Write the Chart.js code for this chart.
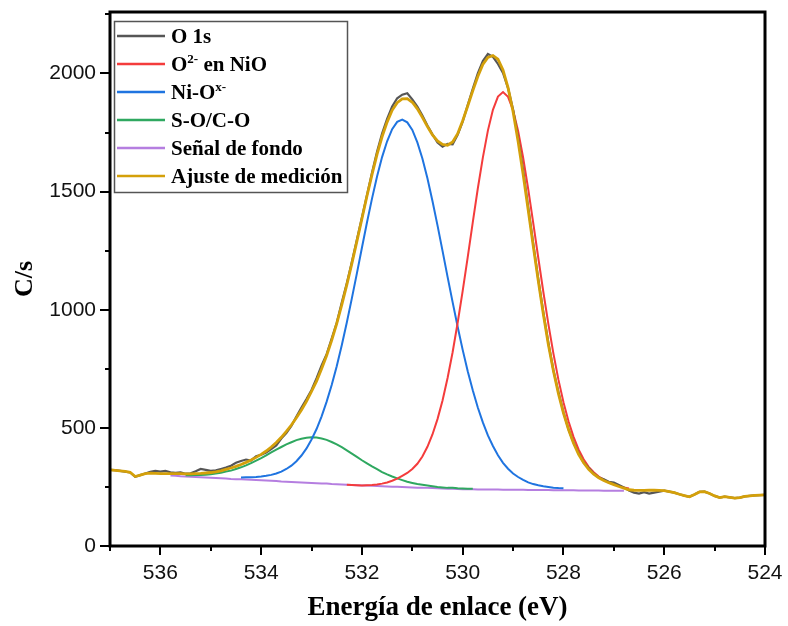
<!DOCTYPE html>
<html><head><meta charset="utf-8">
<script src="https://cdn.jsdelivr.net/npm/chart.js@4/dist/chart.umd.min.js"></script>
<style>html,body{margin:0;padding:0;background:#fff}</style>
</head><body>
<canvas id="c" width="788" height="626"></canvas>
<script>
// Binding energy grid (eV)
const energies = [
537.0,536.9,536.8,536.7,536.6,536.5,536.4,536.3,536.2,536.1,
536.0,535.9,535.8,535.7,535.6,535.5,535.4,535.3,535.2,535.1,
535.0,534.9,534.8,534.7,534.6,534.5,534.4,534.3,534.2,534.1,
534.0,533.9,533.8,533.7,533.6,533.5,533.4,533.3,533.2,533.1,
533.0,532.9,532.8,532.7,532.6,532.5,532.4,532.3,532.2,532.1,
532.0,531.9,531.8,531.7,531.6,531.5,531.4,531.3,531.2,531.1,
531.0,530.9,530.8,530.7,530.6,530.5,530.4,530.3,530.2,530.1,
530.0,529.9,529.8,529.7,529.6,529.5,529.4,529.3,529.2,529.1,
529.0,528.9,528.8,528.7,528.6,528.5,528.4,528.3,528.2,528.1,
528.0,527.9,527.8,527.7,527.6,527.5,527.4,527.3,527.2,527.1,
527.0,526.9,526.8,526.7,526.6,526.5,526.4,526.3,526.2,526.1,
526.0,525.9,525.8,525.7,525.6,525.5,525.4,525.3,525.2,525.1,
525.0,524.9,524.8,524.7,524.6,524.5,524.4,524.3,524.2,524.1,
524.0];

// O 1s measured counts
const o1sData = [
322,321,318,315,311,293,300,307,314,318,
315,318,312,310,312,306,308,316,326,322,
318,320,326,332,340,352,360,366,362,380,
386,396,410,425,455,478,508,548,586,622,
660,710,764,812,878,945,1030,1112,1202,1296,
1390,1485,1580,1668,1745,1808,1860,1895,1910,1916,
1890,1860,1822,1780,1742,1708,1690,1702,1700,1740,
1796,1866,1935,2000,2052,2082,2070,2040,2002,1938,
1848,1725,1590,1434,1280,1130,990,860,745,652,
566,495,438,392,353,330,306,290,282,272,
268,258,248,235,226,222,228,222,226,230,
234,230,226,219,213,208,218,229,230,222,
212,205,209,206,203,205,210,212,214,215,
216];

// Fitted envelope (Ajuste de medición)
const fitData = [
322,320,318,316,312,294,300,306,308,307,
306,306,306,306,306,305,305,306,307,309,
311,314,318,324,330,337,345,354,364,375,
388,402,419,438,460,485,512,543,576,612,
654,698,750,806,870,941,1020,1105,1195,1289,
1385,1481,1572,1657,1732,1794,1844,1876,1892,1893,
1878,1850,1814,1775,1740,1714,1700,1696,1710,1745,
1800,1862,1926,1987,2038,2068,2076,2060,2015,1940,
1838,1712,1572,1422,1270,1122,982,853,742,645,
562,493,435,388,352,325,304,289,277,268,
260,252,245,238,236,235,235,236,236,235,
234,230,226,219,213,208,218,229,230,222,
212,205,209,206,203,205,210,212,214,215,
216];

// O2- in NiO component, starting at 532.3 eV
const redStart = 532.3;
const redData = [
259,258,257,256,257,258,260,264,269,276,285,297,309,326,348,
379,420,472,537,616,711,820,945,1080,1223,
1370,1513,1644,1758,1846,1902,1921,1901,1845,1757,
1643,1511,1367,1220,1076,940,815,704,608,528,
462,409,367,335,312,294,281,268,261,254,
248,243];

// Ni-Ox- component, starting at 534.4 eV
const blueStart = 534.4;
const blueData = [
290,291,291,292,294,
297,301,307,315,326,340,359,383,413,451,
495,549,611,681,761,850,946,1048,1154,1262,
1369,1470,1564,1646,1713,1764,1795,1805,1793,1761,
1708,1640,1556,1460,1357,1249,1139,1032,928,830,
740,659,586,523,468,423,384,352,327,307,
292,280,269,262,257,253,250,247,245,244];

// S-O/C-O component, starting at 535.5 eV
const greenStart = 535.5;
const greenData = [
299,299,300,301,302,304,
307,310,315,319,326,333,341,351,361,372,
384,396,408,419,430,439,448,454,458,460,
459,455,449,440,430,418,405,391,377,363,
350,337,325,313,303,294,286,279,272,267,
262,259,256,253,250,248,246,246,244,243,
242,242];

// Background (Señal de fondo), starting at 535.8 eV
const bgStart = 535.8;
const bgData = [
298,297,295,294,293,292,291,290,289,
288,287,286,284,283,282,281,280,279,278,
277,276,275,273,272,271,270,269,268,267,
266,265,264,262,261,260,259,258,257,256,
256,255,254,253,252,251,251,250,249,248,
247,247,246,245,244,243,242,242,241,240,
240,240,239,239,239,239,239,238,238,238,
238,238,237,237,237,237,237,236,236,236,
236,236,235,235,235,235,235,234,234,234,
234,234];

const legendLabels = ['O 1s','O^{2-} en NiO','Ni-O^{x-}','S-O/C-O','Señal de fondo','Ajuste de medición'];
const xRange = [524, 537];
const yRange = [0, 2260];
const yTickValues = [0,250,500,750,1000,1250,1500,1750,2000,2250];
const yLabelValues = [0,500,1000,1500,2000];
const xTickValues = [537,536,535,534,533,532,531,530,529,528,527,526,525,524];
const xLabelValues = [536,534,532,530,528,526,524];

function pts(start, vals){
  const i0 = energies.findIndex(e => Math.abs(e - start) < 1e-6);
  return vals.map((v,i)=>({x: energies[i0+i], y: v}));
}
const full = vals => vals.map((v,i)=>({x: energies[i], y: v}));

const ticksPlugin = {
  id:'originTicks',
  afterDraw(chart){
    const ctx = chart.ctx, ca = chart.chartArea;
    const xs = chart.scales.x, ys = chart.scales.y;
    ctx.save();
    ctx.strokeStyle = '#000';
    ctx.lineWidth = 2;
    ys.ticks.forEach(t=>{
      const y = Math.round(ys.getPixelForValue(t.value));
      const len = yLabelValues.includes(t.value) ? 10 : 5;
      ctx.beginPath(); ctx.moveTo(ca.left - len, y); ctx.lineTo(ca.left, y); ctx.stroke();
    });
    xs.ticks.forEach(t=>{
      const x = Math.round(xs.getPixelForValue(t.value));
      const len = xLabelValues.includes(t.value) ? 9 : 5;
      ctx.beginPath(); ctx.moveTo(x, ca.bottom); ctx.lineTo(x, ca.bottom + len); ctx.stroke();
    });
    ctx.lineWidth = 3;
    ctx.strokeRect(ca.left, ca.top, ca.right - ca.left, ca.bottom - ca.top);
    ctx.restore();
  }
};

const legendPlugin = {
  id:'boxLegend',
  afterDraw(chart){
    const ctx = chart.ctx, ca = chart.chartArea;
    const x0 = ca.left + 4, y0 = ca.top + 9, w = 233, h = 171;
    ctx.save();
    ctx.fillStyle = '#fff'; ctx.fillRect(x0, y0, w, h);
    ctx.strokeStyle = '#555'; ctx.lineWidth = 1.5;
    ctx.strokeRect(x0 + .5, y0 + .5, w, h);
    legendLabels.forEach((lab, i)=>{
      const ds = chart.data.datasets[i];
      const cy = y0 + 15 + i * 28;
      ctx.strokeStyle = ds.borderColor; ctx.lineWidth = 2.5;
      ctx.beginPath(); ctx.moveTo(x0 + 3, cy); ctx.lineTo(x0 + 51, cy); ctx.stroke();
      let x = x0 + 57; const base = cy + 7;
      lab.split(/(\^\{[^}]*\})/).forEach(p=>{
        if (!p) return;
        const sup = p.startsWith('^{');
        const t = sup ? p.slice(2, -1) : p;
        ctx.font = sup ? 'bold 13px "Liberation Serif"' : 'bold 21px "Liberation Serif"';
        ctx.fillStyle = '#000'; ctx.textBaseline = 'alphabetic';
        ctx.fillText(t, x, sup ? base - 8 : base);
        x += ctx.measureText(t).width;
      });
    });
    ctx.restore();
  }
};

const line = (label, data, color, order, width) => ({
  label, data, borderColor: color, backgroundColor: color,
  borderWidth: width, pointRadius: 0, tension: 0, fill: false, order
});

new Chart(document.getElementById('c'), {
  type: 'line',
  data: {
    datasets: [
      line('O 1s', full(o1sData), '#565656', 2, 2.2),
      line('O2- en NiO', pts(redStart, redData), '#f43c3c', 3, 2),
      line('Ni-Ox-', pts(blueStart, blueData), '#1f74e0', 4, 2),
      line('S-O/C-O', pts(greenStart, greenData), '#2fa860', 5, 2),
      line('Señal de fondo', pts(bgStart, bgData), '#b57ee0', 6, 2),
      line('Ajuste de medición', full(fitData), '#d4a00a', 1, 2.8)
    ]
  },
  options: {
    responsive: false, animation: false, devicePixelRatio: 1,
    layout: { padding: { left: 0, right: 23, top: 12, bottom: 0 } },
    plugins: { legend: { display: false }, tooltip: { enabled: false } },
    scales: {
      x: {
        type: 'linear', reverse: true, min: xRange[0], max: xRange[1],
        grid: { display: false }, border: { display: false },
        afterBuildTicks: s => { s.ticks = xTickValues.map(v => ({ value: v })); },
        ticks: { autoSkip: false, maxRotation: 0, minRotation: 0, padding: 7,
          color: '#111', font: { family: 'Liberation Sans', size: 21 },
          callback: v => (xLabelValues.includes(v) ? String(v) : '') },
        title: { display: true, text: 'Energía de enlace (eV)', color: '#000',
          font: { family: 'Liberation Serif', size: 27, weight: 'bold' }, padding: { top: 0, bottom: 2 } },
        afterFit: s => { s.height = 80; s.paddingLeft = 0; s.paddingRight = 0; }
      },
      y: {
        type: 'linear', min: yRange[0], max: yRange[1],
        grid: { display: false }, border: { display: false },
        afterBuildTicks: s => { s.ticks = yTickValues.map(v => ({ value: v })); },
        ticks: { autoSkip: false, padding: 6,
          color: '#111', font: { family: 'Liberation Sans', size: 21 },
          callback: v => (yLabelValues.includes(v) ? String(v) : '') },
        title: { display: true, text: 'C/s', color: '#000',
          font: { family: 'Liberation Serif', size: 26, weight: 'bold' }, padding: { top: 10, bottom: 0 } },
        afterFit: s => { s.width = 110; s.paddingTop = 0; s.paddingBottom = 0; }
      }
    }
  },
  plugins: [ticksPlugin, legendPlugin]
});
</script>
</body></html>
